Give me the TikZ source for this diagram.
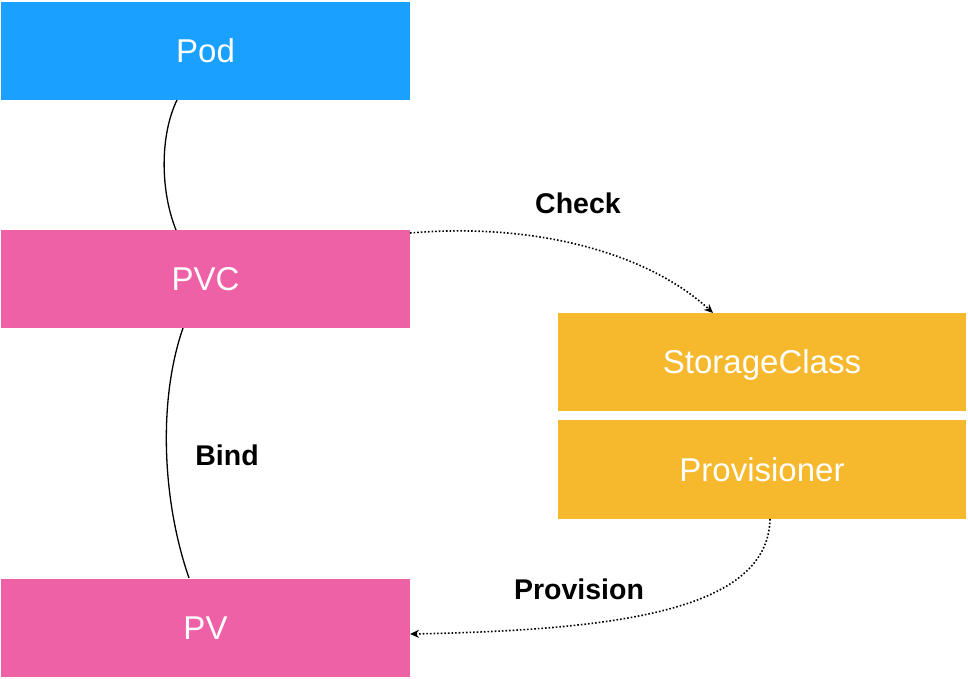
\documentclass[tikz,border=0pt]{standalone}
\usepackage{fontspec}
\setmainfont{Liberation Sans}
\usetikzlibrary{arrows.meta}
\definecolor{podblue}{HTML}{1AA0FF}
\definecolor{pvpink}{HTML}{EE61A7}
\definecolor{scorange}{HTML}{F6B82C}
\tikzset{
  box/.style={draw=none, minimum width=409pt, minimum height=98pt, inner sep=0pt, text=white, text height=23.6pt, text depth=0pt, font=\fontsize{33}{38}\selectfont},
  lbl/.style={font=\bfseries\fontsize{28.5}{32}\selectfont, text=black},
  link/.style={line width=1.3pt, black},
  dotarrow/.style={line width=1.6pt, black, dotted, -{Stealth[length=9pt,width=8pt]}}
}
\begin{document}
\begin{tikzpicture}[x=1pt,y=-1pt]
\useasboundingbox (0,0) rectangle (968,679);
\node[box, fill=podblue] (pod) at (205.5,51) {Pod};
\node[box, fill=pvpink] (pvc) at (205.5,279) {PVC};
\node[box, fill=pvpink] (pv) at (205.5,627.5) {PV};
\node[box, fill=scorange, minimum width=408pt] (sc) at (762,362) {StorageClass};
\node[box, fill=scorange, minimum width=408pt, minimum height=99pt] (prov) at (762,469.5) {Provisioner};
\coordinate (podb) at (177,100);
\coordinate (pvct) at (176,230);
\coordinate (pvcb) at (183,328);
\coordinate (pvt) at (189,578);
\draw[link] (podb) .. controls (160,135) and (160,190) .. (pvct);
\draw[link] (pvcb) .. controls (158,400) and (162,500) .. (pvt);
\coordinate (chkS) at (410,233);
\coordinate (chkE) at (713,313);
\draw[dotarrow] (chkS) .. controls (540,222) and (650,255) .. (chkE);
\coordinate (prS) at (770,519);
\coordinate (prE) at (410,634);
\draw[dotarrow] (prS) .. controls (768,610) and (620,630) .. (prE);
\node[lbl] (check) at (578,203) {Check};
\node[lbl] (bind) at (227,455) {Bind};
\node[lbl] (provision) at (579,589) {Provision};
\end{tikzpicture}
\end{document}
